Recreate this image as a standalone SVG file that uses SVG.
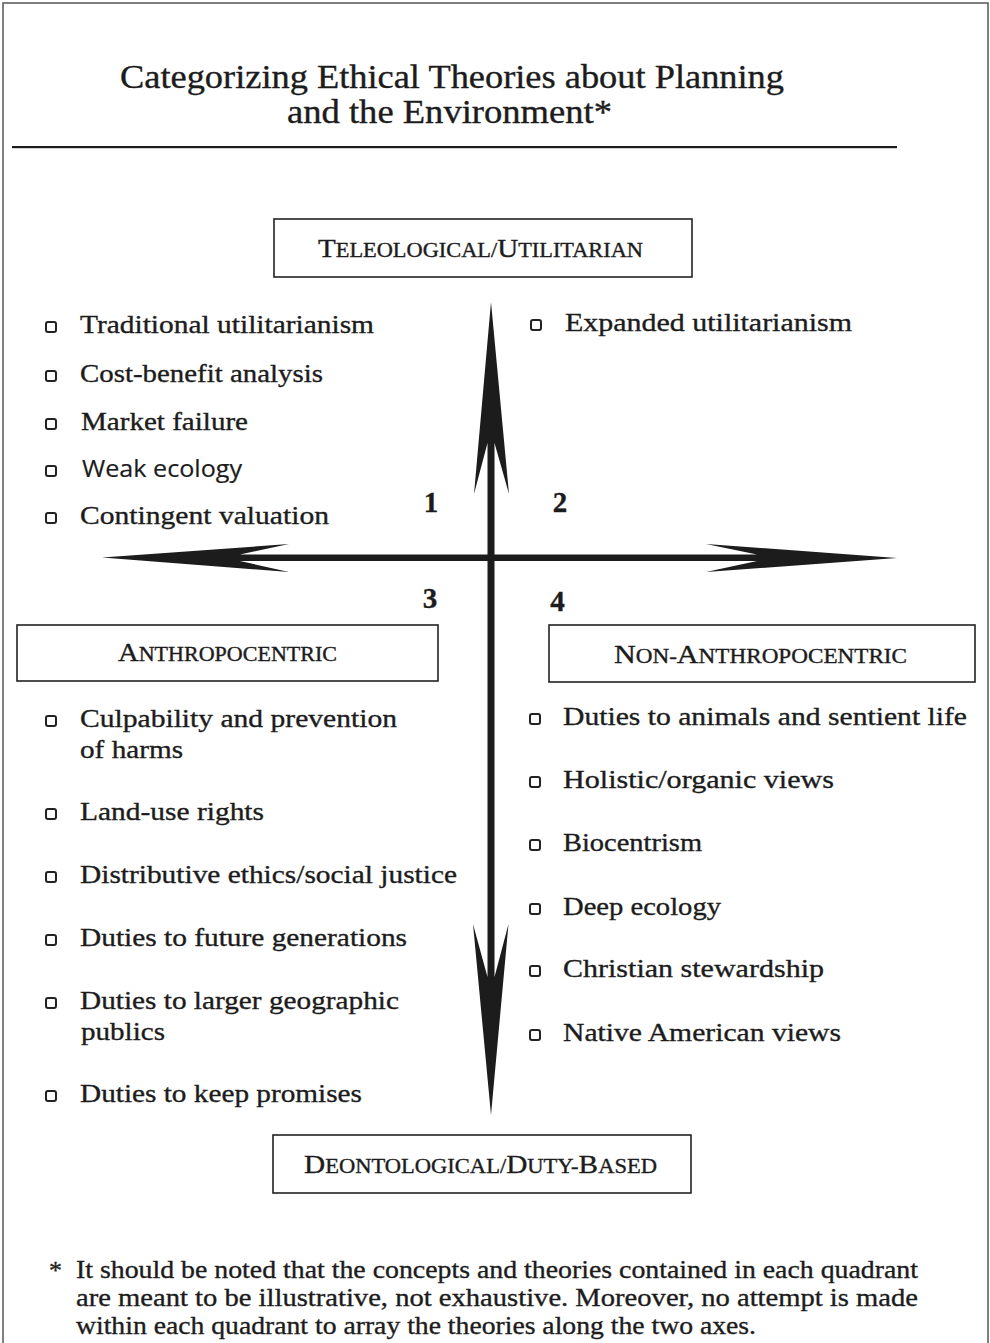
<svg xmlns="http://www.w3.org/2000/svg" width="990" height="1343" viewBox="0 0 990 1343">
<style>
  .t { font-family: "Liberation Serif", "Times New Roman", serif; fill: #1c1c1c; stroke: #1c1c1c; stroke-width: 0.35; }
  .item { font-size: 26px; }
  .sans { font-family: "Open Sans", "Liberation Sans", sans-serif; font-size: 24px; fill: #1c1c1c; stroke: #1c1c1c; stroke-width: 0.2; }
  .num { font-size: 29px; font-weight: bold; text-anchor: middle; }
  .box { fill: #fff; stroke: #222; stroke-width: 1.6; }
  .lbl { font-size: 26px; }
  .sc { font-size: 20px; }
  .bul { fill: none; stroke: #222; stroke-width: 2; }
  .axis { fill: #1c1c1c; stroke: none; }
</style>

<!-- frame -->
<path d="M3 1343 V3 H988 V1343" fill="none" stroke="#555" stroke-width="1.5"/>

<g id="title">
  <text class="t" x="120" y="88" font-size="33" textLength="664" lengthAdjust="spacingAndGlyphs">Categorizing Ethical Theories about Planning</text>
  <text class="t" x="287" y="123" font-size="33" textLength="325" lengthAdjust="spacingAndGlyphs">and the Environment*</text>
  <rect x="12" y="146" width="885" height="2.2" fill="#1c1c1c"/>
</g>

<g id="connectors">
  <polygon class="axis" points="491,302 509,494 494.5,443 494.5,977 508.5,924 491,1115 473,924 487.5,977 487.5,443 474,494"/>
  <polygon class="axis" points="102,557.5 289,544 240,554.5 757,554.5 706,544 897,558 706,572 757,561 240,561 289,572"/>
</g>

<g id="node-teleological">
  <rect class="box" x="274" y="219" width="418" height="58"/>
  <text class="t lbl" x="318" y="257" textLength="325" lengthAdjust="spacingAndGlyphs">T<tspan class="sc">ELEOLOGICAL/</tspan>U<tspan class="sc">TILITARIAN</tspan></text>
</g>

<g id="node-anthropocentric">
  <rect class="box" x="17" y="625" width="421" height="56"/>
  <text class="t lbl" x="118" y="661" textLength="219" lengthAdjust="spacingAndGlyphs">A<tspan class="sc">NTHROPOCENTRIC</tspan></text>
</g>

<g id="node-non-anthropocentric">
  <rect class="box" x="549" y="625" width="426" height="57"/>
  <text class="t lbl" x="614" y="663" textLength="293" lengthAdjust="spacingAndGlyphs">N<tspan class="sc">ON-</tspan>A<tspan class="sc">NTHROPOCENTRIC</tspan></text>
</g>

<g id="node-deontological">
  <rect class="box" x="273" y="1135" width="418" height="58"/>
  <text class="t lbl" x="304" y="1173" textLength="353" lengthAdjust="spacingAndGlyphs">D<tspan class="sc">EONTOLOGICAL/</tspan>D<tspan class="sc">UTY-</tspan>B<tspan class="sc">ASED</tspan></text>
</g>

<g id="quadrant-numbers">
  <text class="t num" x="431" y="512">1</text>
  <text class="t num" x="560" y="512">2</text>
  <text class="t num" x="430" y="608">3</text>
  <text class="t num" x="557.5" y="611">4</text>
</g>

<g id="quadrant-1">
  <rect class="bul" x="46" y="322" width="10" height="10" rx="2"/>
  <text class="t item" x="80" y="333" textLength="294" lengthAdjust="spacingAndGlyphs">Traditional utilitarianism</text>
  <rect class="bul" x="46" y="371" width="10" height="10" rx="2"/>
  <text class="t item" x="80" y="382" textLength="243" lengthAdjust="spacingAndGlyphs">Cost-benefit analysis</text>
  <rect class="bul" x="46" y="419" width="10" height="10" rx="2"/>
  <text class="t item" x="81" y="430" textLength="167" lengthAdjust="spacingAndGlyphs">Market failure</text>
  <rect class="bul" x="46" y="466" width="10" height="10" rx="2"/>
  <text class="sans" x="82" y="477" textLength="160" lengthAdjust="spacingAndGlyphs">Weak ecology</text>
  <rect class="bul" x="46" y="513" width="10" height="10" rx="2"/>
  <text class="t item" x="80" y="524" textLength="249" lengthAdjust="spacingAndGlyphs">Contingent valuation</text>
</g>

<g id="quadrant-2">
  <rect class="bul" x="531" y="320" width="10" height="10" rx="2"/>
  <text class="t item" x="565" y="331" textLength="287" lengthAdjust="spacingAndGlyphs">Expanded utilitarianism</text>
</g>

<g id="quadrant-3">
  <rect class="bul" x="46" y="716" width="10" height="10" rx="2"/>
  <text class="t item" x="80" y="727" textLength="317" lengthAdjust="spacingAndGlyphs">Culpability and prevention</text>
  <text class="t item" x="80" y="758" textLength="103" lengthAdjust="spacingAndGlyphs">of harms</text>
  <rect class="bul" x="46" y="809" width="10" height="10" rx="2"/>
  <text class="t item" x="80" y="820" textLength="184" lengthAdjust="spacingAndGlyphs">Land-use rights</text>
  <rect class="bul" x="46" y="872" width="10" height="10" rx="2"/>
  <text class="t item" x="80" y="883" textLength="377" lengthAdjust="spacingAndGlyphs">Distributive ethics/social justice</text>
  <rect class="bul" x="46" y="935" width="10" height="10" rx="2"/>
  <text class="t item" x="80" y="946" textLength="327" lengthAdjust="spacingAndGlyphs">Duties to future generations</text>
  <rect class="bul" x="46" y="998" width="10" height="10" rx="2"/>
  <text class="t item" x="80" y="1009" textLength="319" lengthAdjust="spacingAndGlyphs">Duties to larger geographic</text>
  <text class="t item" x="81" y="1040" textLength="84" lengthAdjust="spacingAndGlyphs">publics</text>
  <rect class="bul" x="46" y="1091" width="10" height="10" rx="2"/>
  <text class="t item" x="80" y="1102" textLength="282" lengthAdjust="spacingAndGlyphs">Duties to keep promises</text>
</g>

<g id="quadrant-4">
  <rect class="bul" x="530" y="714" width="10" height="10" rx="2"/>
  <text class="t item" x="563" y="725" textLength="404" lengthAdjust="spacingAndGlyphs">Duties to animals and sentient life</text>
  <rect class="bul" x="530" y="777" width="10" height="10" rx="2"/>
  <text class="t item" x="563" y="788" textLength="271" lengthAdjust="spacingAndGlyphs">Holistic/organic views</text>
  <rect class="bul" x="530" y="840" width="10" height="10" rx="2"/>
  <text class="t item" x="563" y="851" textLength="139" lengthAdjust="spacingAndGlyphs">Biocentrism</text>
  <rect class="bul" x="530" y="904" width="10" height="10" rx="2"/>
  <text class="t item" x="563" y="915" textLength="158" lengthAdjust="spacingAndGlyphs">Deep ecology</text>
  <rect class="bul" x="530" y="966" width="10" height="10" rx="2"/>
  <text class="t item" x="563" y="977" textLength="261" lengthAdjust="spacingAndGlyphs">Christian stewardship</text>
  <rect class="bul" x="530" y="1030" width="10" height="10" rx="2"/>
  <text class="t item" x="563" y="1041" textLength="278" lengthAdjust="spacingAndGlyphs">Native American views</text>
</g>

<g id="footnote">
  <text class="t" x="49" y="1279" font-size="26">*</text>
  <text class="t" x="76" y="1278" font-size="26" textLength="842" lengthAdjust="spacingAndGlyphs">It should be noted that the concepts and theories contained in each quadrant</text>
  <text class="t" x="76" y="1306" font-size="26" textLength="842" lengthAdjust="spacingAndGlyphs">are meant to be illustrative, not exhaustive. Moreover, no attempt is made</text>
  <text class="t" x="76" y="1334" font-size="26" textLength="680" lengthAdjust="spacingAndGlyphs">within each quadrant to array the theories along the two axes.</text>
</g>
</svg>
